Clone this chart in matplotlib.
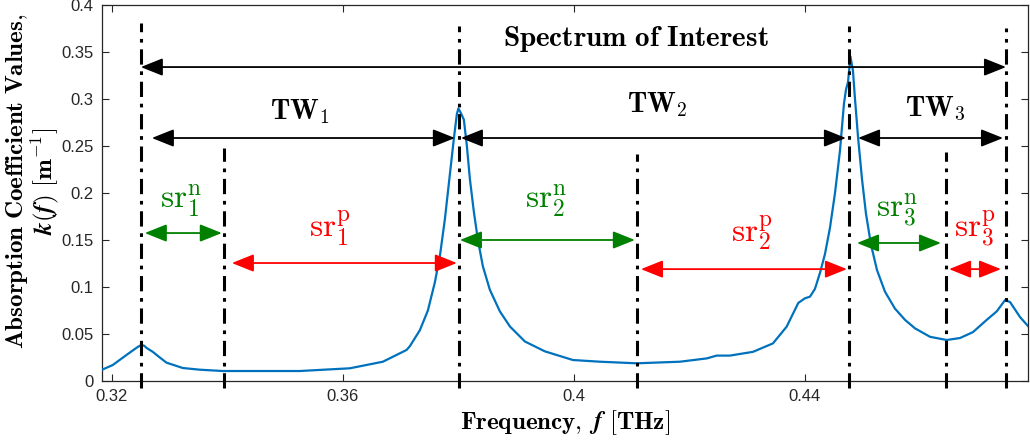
import matplotlib
matplotlib.use("Agg")
import matplotlib.pyplot as plt

# ---- data ----
freq = [0.31822, 0.32017, 0.32255, 0.32398, 0.32470, 0.32514, 0.32560, 0.32606,
        0.32710, 0.32831, 0.32947, 0.33229, 0.33524, 0.33922, 0.35255, 0.36121,
        0.36693, 0.37103, 0.37160, 0.37333, 0.37472, 0.37593, 0.37680, 0.37766,
        0.37853, 0.37922, 0.37974, 0.38000, 0.38043, 0.38095, 0.38147, 0.38199,
        0.38268, 0.38338, 0.38424, 0.38545, 0.38719, 0.38892, 0.39152, 0.39498,
        0.39983, 0.40450, 0.41086, 0.41835, 0.42298, 0.42471, 0.42701, 0.43100,
        0.43446, 0.43683, 0.43884, 0.44000, 0.44087, 0.44173, 0.44260, 0.44346,
        0.44433, 0.44520, 0.44606, 0.44675, 0.44710, 0.44745, 0.44788, 0.44831,
        0.44866, 0.44918, 0.44987, 0.45056, 0.45143, 0.45247, 0.45385, 0.45558,
        0.45732, 0.45905, 0.46165, 0.46454, 0.46684, 0.46909, 0.47146, 0.47319,
        0.47463, 0.47550, 0.47723, 0.47896]
kval = [0.0117, 0.0170, 0.0277, 0.0340, 0.0370, 0.0383, 0.0375, 0.0350,
        0.0310, 0.0250, 0.0195, 0.0138, 0.0120, 0.0106, 0.0106, 0.0135,
        0.0205, 0.0330, 0.0370, 0.0540, 0.0750, 0.1050, 0.1330, 0.1720,
        0.2200, 0.2580, 0.2840, 0.2900, 0.2850, 0.2780, 0.2500, 0.2150,
        0.1800, 0.1500, 0.1220, 0.0970, 0.0740, 0.0580, 0.0420, 0.0315,
        0.0223, 0.0205, 0.0188, 0.0205, 0.0240, 0.0270, 0.0270, 0.0310,
        0.0400, 0.0578, 0.0830, 0.0880, 0.0897, 0.0980, 0.1150, 0.1350,
        0.1630, 0.2000, 0.2450, 0.2950, 0.3100, 0.3180, 0.3450, 0.3300,
        0.3000, 0.2600, 0.2150, 0.1780, 0.1450, 0.1180, 0.0950, 0.0770,
        0.0650, 0.0560, 0.0470, 0.0436, 0.0457, 0.0520, 0.0650, 0.0740,
        0.0860, 0.0840, 0.0680, 0.0560]

# boundaries (THz)
tall_lines = [0.32502, 0.38009, 0.44762, 0.47481]
tall_tops = [0.381, 0.378, 0.378, 0.376]
short_lines = [0.33939, 0.41091, 0.46442]
short_tops = [0.248, 0.242, 0.244]

xticks = [0.32, 0.36, 0.40, 0.44]
xticklabels = ["0.32", "0.36", "0.4", "0.44"]
yticks = [0, 0.05, 0.1, 0.15, 0.2, 0.25, 0.3, 0.35, 0.4]
yticklabels = ["0", "0.05", "0.1", "0.15", "0.2", "0.25", "0.3", "0.35", "0.4"]

# arrows: (x_start, x_end, y, color)
arrows = [
    (0.32502, 0.47481, 0.334, "black"),
    (0.32693, 0.37940, 0.2585, "black"),
    (0.38043, 0.44710, 0.2585, "black"),
    (0.44918, 0.47429, 0.2585, "black"),
    (0.32571, 0.33905, 0.1574, "green"),
    (0.34078, 0.37974, 0.1255, "red"),
    (0.38026, 0.41056, 0.150, "green"),
    (0.41160, 0.44727, 0.119, "red"),
    (0.44900, 0.46355, 0.1468, "green"),
    (0.46494, 0.47394, 0.119, "red"),
]

# labels: (x, y, text, color, size)
labels = [
    (0.41074, 0.364, r"$\mathbf{Spectrum\ of\ Interest}$", "black", 21),
    (0.35255, 0.287, r"$\mathbf{TW}_{\mathbf{1}}$", "black", 20),
    (0.41437, 0.294, r"$\mathbf{TW}_{\mathbf{2}}$", "black", 20),
    (0.46251, 0.289, r"$\mathbf{TW}_{\mathbf{3}}$", "black", 20),
    (0.33207, 0.192, r"$\mathrm{sr}_1^{\mathrm{n}}$", "green", 24),
    (0.35775, 0.163, r"$\mathrm{sr}_1^{\mathrm{p}}$", "red", 24),
    (0.39527, 0.192, r"$\mathrm{sr}_2^{\mathrm{n}}$", "green", 24),
    (0.43087, 0.157, r"$\mathrm{sr}_2^{\mathrm{p}}$", "red", 24),
    (0.45588, 0.181, r"$\mathrm{sr}_3^{\mathrm{n}}$", "green", 24),
    (0.46944, 0.162, r"$\mathrm{sr}_3^{\mathrm{p}}$", "red", 24),
]

plt.rcParams["mathtext.fontset"] = "cm"
plt.rcParams["font.family"] = ["Liberation Sans", "DejaVu Sans"]

fig = plt.figure(figsize=(10.30, 4.48), dpi=100)
ax = fig.add_axes([0.0990, 0.1496, 0.8990, 0.8392])

green = (0.0, 0.5, 0.0)
red = (1.0, 0.0, 0.0)
cmap = {"black": "black", "green": green, "red": red}

ax.plot(freq, kval, color=(0.0, 0.447, 0.741), lw=1.6, zorder=3)

dash = (0, (5, 2.2, 1.2, 2.2))
for x, t in zip(tall_lines, tall_tops):
    ax.plot([x, x], [-0.008, t], color="black", lw=2.2, linestyle=dash,
            clip_on=False, zorder=4)
for x, t in zip(short_lines, short_tops):
    ax.plot([x, x], [-0.008, t], color="black", lw=2.2, linestyle=dash,
            clip_on=False, zorder=4)

for x0, x1, y, c in arrows:
    ax.annotate("", xy=(x1, y), xytext=(x0, y),
                arrowprops=dict(arrowstyle="<|-|>,head_length=0.75,head_width=0.3",
                                color=cmap[c], lw=1.3, mutation_scale=18,
                                shrinkA=0, shrinkB=0),
                zorder=5)

for x, y, s, c, fs in labels:
    ax.text(x, y, s, color=cmap[c], fontsize=fs, ha="center", va="center")

ax.set_xlim(0.3183, 0.4786)
ax.set_ylim(0, 0.4)
ax.set_xticks(xticks)
ax.set_xticklabels(xticklabels)
ax.set_yticks(yticks)
ax.set_yticklabels(yticklabels)
ax.tick_params(direction="in", length=5, width=0.8, top=True, right=True,
               labelsize=12, colors=(0.15, 0.15, 0.15), pad=6)
for sp in ax.spines.values():
    sp.set_color((0.15, 0.15, 0.15))
    sp.set_linewidth(0.9)

ax.set_xlabel(r"$\mathbf{Frequency,}\ \boldsymbol{f}\ \mathbf{[THz]}$",
              fontsize=18, labelpad=3)
ax.set_ylabel(r"$\mathbf{Absorption\ Coefficient\ Values,}$" + "\n" +
              r"$\boldsymbol{k(f)}\ \mathbf{[m^{-1}]}$",
              fontsize=18, linespacing=1.0)
ax.yaxis.set_label_coords(-0.0435, 0.53)

fig.savefig("out.png", dpi=100)
